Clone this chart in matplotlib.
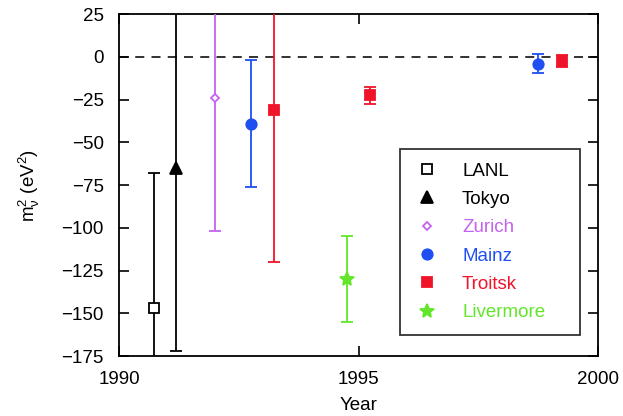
import matplotlib.pyplot as plt
from matplotlib.lines import Line2D

plt.rcParams['font.family'] = ['Liberation Sans', 'DejaVu Sans']
plt.rcParams['mathtext.fontset'] = 'custom'
plt.rcParams['mathtext.rm'] = 'Liberation Sans'
plt.rcParams['mathtext.it'] = 'Liberation Sans'

# experiment: (years, m^2 values, 1-sigma errors)
lanl_year = [1990.73]
lanl_m2 = [-147]
lanl_err = [79]

tokyo_year = [1991.2]
tokyo_m2 = [-65]
tokyo_err = [107]

zurich_year = [1992.0]
zurich_m2 = [-24]
zurich_err = [78]

mainz_year = [1992.75, 1998.75]
mainz_m2 = [-39, -4]
mainz_err = [37, 5.5]

troitsk_year = [1993.24, 1995.24, 1999.25]
troitsk_m2 = [-31, -22.5, -2.3]
troitsk_err = [89, 5, 3.5]

livermore_year = [1994.75]
livermore_m2 = [-130]
livermore_err = [25]

fig = plt.figure(figsize=(6.23, 4.16), dpi=100)
ax = fig.add_axes([0.191, 0.144, 0.769, 0.822])

ax.axhline(0, color='#222222', lw=1.3, ls=(0, (5, 4)), zorder=1)

series = [
    ('LANL', lanl_year, lanl_m2, lanl_err, 'black', 's', 7, 'white'),
    ('Tokyo', tokyo_year, tokyo_m2, tokyo_err, 'black', '^', 8, 'black'),
    ('Zurich', zurich_year, zurich_m2, zurich_err, '#c462f2', 'D', 4.5, 'white'),
    ('Mainz', mainz_year, mainz_m2, mainz_err, '#1f4ff0', 'o', 7.5, '#1f4ff0'),
    ('Troitsk', troitsk_year, troitsk_m2, troitsk_err, '#f0142a', 's', 7.5, '#f0142a'),
    ('Livermore', livermore_year, livermore_m2, livermore_err, '#62e62a', '*', 10, '#62e62a'),
]

handles = []
for name, x, y, e, c, m, ms, fc in series:
    ax.errorbar(x, y, yerr=e, fmt=m, color=c, ms=ms, mfc=fc, mec=c, mew=1.3,
                ecolor=c, elinewidth=1.3, capsize=4.5, capthick=1.3, zorder=3)
    handles.append(Line2D([], [], ls='none', marker=m, color=c, ms=ms,
                          mfc=fc, mec=c, mew=1.3))

ax.set_xlim(1990, 2000)
ax.set_ylim(-175, 25)
ax.set_xticks([1990, 1995, 2000])
ax.set_yticks(range(-175, 26, 25))
ax.set_yticklabels([str(v).replace('-', '\u2212') for v in range(-175, 26, 25)])
ax.tick_params(direction='in', length=7, width=1.2, top=True, right=True,
               labelsize=13.5, pad=11)
for s in ax.spines.values():
    s.set_linewidth(1.3)

ax.set_xlabel('Year', fontsize=13.5, labelpad=6)
ax.set_ylabel(r'm$_\nu^2$ (eV$^2$)', fontsize=13.5, labelpad=14)

leg = ax.legend(handles, [s[0] for s in series], loc='lower left',
                bbox_to_anchor=(0.587, 0.063, 0.375, 0.534), mode='expand',
                fontsize=13.5, frameon=True, fancybox=False, edgecolor='black',
                handlelength=1.5, handletextpad=1.1, borderpad=0.7,
                labelspacing=0.6, borderaxespad=0)
leg.get_frame().set_linewidth(1.3)
for t, s in zip(leg.get_texts(), series):
    t.set_color(s[4])

fig.savefig('out.png', dpi=100)
